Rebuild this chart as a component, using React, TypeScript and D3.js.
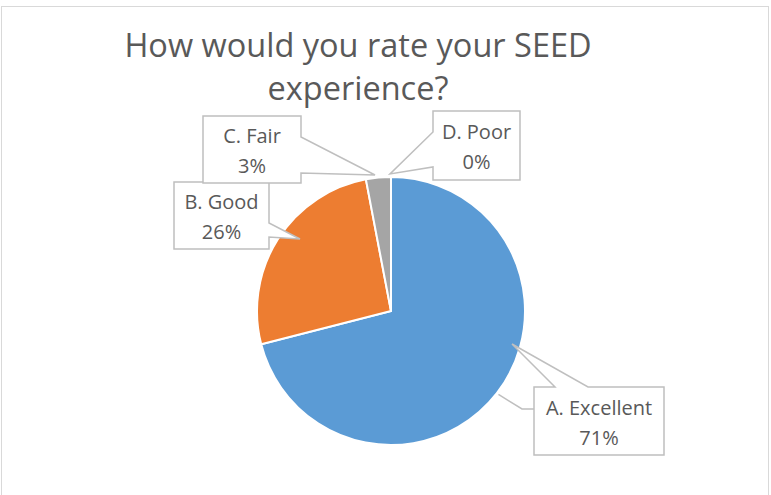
import React from "react";
import * as d3 from "d3";

const categories = ["A. Excellent", "B. Good", "C. Fair", "D. Poor"];
const values = [71, 26, 3, 0];
const colors = ["#5B9BD5", "#ED7D31", "#A5A5A5", "#FFC000"];
const titleLines = ["How would you rate your SEED", "experience?"];

const W = 771;
const H = 495;
const cx = 391;
const cy = 311;
const R = 134;

type Box = { x0: number; y0: number; x1: number; y1: number; side: "left" | "right" | "top"; a: number; b: number; tip: [number, number] };

// label layout (positions), indexed like categories
const boxes: Box[] = [
  { x0: 534, y0: 387, x1: 664, y1: 455, side: "top", a: 555, b: 588, tip: [512, 344] },
  { x0: 174, y0: 182, x1: 269, y1: 249, side: "right", a: 223, b: 237, tip: [300, 239] },
  { x0: 203, y0: 116, x1: 301, y1: 183, side: "right", a: 137, b: 173, tip: [375, 175] },
  { x0: 433, y0: 111, x1: 520, y1: 180, side: "left", a: 132, b: 167, tip: [390, 174] },
];

function calloutPath(bx: Box): string {
  const { x0, y0, x1, y1, side, a, b, tip } = bx;
  const t = `${tip[0]},${tip[1]}`;
  if (side === "top") {
    return `M${x0},${y0}L${a},${y0}L${t}L${b},${y0}L${x1},${y0}L${x1},${y1}L${x0},${y1}Z`;
  }
  if (side === "right") {
    return `M${x0},${y0}L${x1},${y0}L${x1},${a}L${t}L${x1},${b}L${x1},${y1}L${x0},${y1}Z`;
  }
  return `M${x0},${y0}L${x1},${y0}L${x1},${y1}L${x0},${y1}L${x0},${b}L${t}L${x0},${a}Z`;
}

export default function App() {
  const pie = d3.pie<number>().sort(null).value((d) => d);
  const arcs = pie(values);
  const arc = d3.arc<d3.PieArcDatum<number>>().innerRadius(0).outerRadius(R);
  const total = d3.sum(values);
  const font = "'Open Sans', 'Noto Sans', sans-serif";

  // leader line for the largest slice
  const ex = arcs[0];
  const mid = (ex.startAngle + ex.endAngle) / 2;
  const lr = R + 2;
  const lx = cx + lr * Math.sin(mid);
  const ly = cy - lr * Math.cos(mid);
  const eb = boxes[0];
  const leaderY = eb.y0 + 22;

  return (
    <svg width={W} height={H} style={{ position: "absolute", left: 0, top: 0 }}>
      <rect x={0} y={0} width={W} height={H} fill="#ffffff" />
      <rect x={1.5} y={6.5} width={767} height={495} fill="none" stroke="#d9d9d9" strokeWidth={1} />
      {titleLines.map((t, i) => (
        <text key={i} x={358} y={57 + i * 43} textAnchor="middle" fontFamily={font} fontSize={32.5} fill="#595959">
          {t}
        </text>
      ))}
      <g transform={`translate(${cx},${cy})`}>
        {arcs.map((a, i) => (
          <path key={i} d={arc(a) || ""} fill={colors[i]} stroke="#ffffff" strokeWidth={2} strokeLinejoin="round" />
        ))}
      </g>
      <polyline
        points={`${lx},${ly} ${eb.x0 - 12},${leaderY} ${eb.x0},${leaderY}`}
        fill="none"
        stroke="#bfbfbf"
        strokeWidth={1.5}
      />
      {boxes.map((bx, i) => {
        const mx = (bx.x0 + bx.x1) / 2;
        const my = (bx.y0 + bx.y1) / 2;
        const pct = Math.round((values[i] / total) * 100);
        return (
          <g key={i}>
            <path d={calloutPath(bx)} fill="#ffffff" stroke="#bfbfbf" strokeWidth={1.5} />
            <text x={mx} y={my - 14} textAnchor="middle" dominantBaseline="central" fontFamily={font} fontSize={20} fill="#595959">
              {categories[i]}
            </text>
            <text x={mx} y={my + 16} textAnchor="middle" dominantBaseline="central" fontFamily={font} fontSize={20} fill="#595959">
              {pct}%
            </text>
          </g>
        );
      })}
    </svg>
  );
}
